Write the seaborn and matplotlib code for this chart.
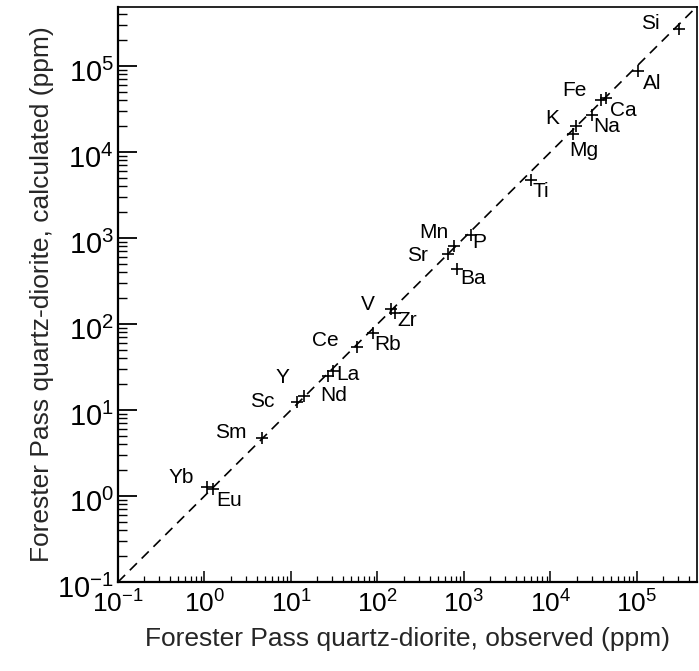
import matplotlib
matplotlib.use("Agg")
import matplotlib.pyplot as plt
import matplotlib.transforms as mtransforms
import seaborn as sns
import pandas as pd
import numpy as np
from matplotlib.ticker import LogLocator

# ===================== 1. data (ppm) =====================
elements = ["Si", "Al", "Fe", "Ca", "Na", "K", "Mg", "Ti",
            "P", "Mn", "Sr", "Ba", "V", "Zr", "Rb", "Ce",
            "La", "Nd", "Y", "Sc", "Sm", "Yb", "Eu"]
observed = [3.06e5, 1.02e5, 3.84e4, 4.38e4, 3.02e4, 1.97e4, 1.82e4, 5.96e3,
            1.20e3, 766, 653, 830, 143, 159, 88.7, 58,
            30.6, 26.8, 14.1, 11.7, 4.63, 1.07, 1.25]
calculated = [2.69e5, 8.7e4, 4.03e4, 4.25e4, 2.70e4, 2.00e4, 1.62e4, 4.7e3,
              1.08e3, 807, 652, 437, 149, 134, 78.5, 54,
              28.4, 24.8, 14.6, 12.4, 4.72, 1.27, 1.20]

one_to_one = [0.1, 1e6]

# label offsets in pixels (dx, dy) from each marker
label_offsets = {
    "Si": (-29, 6), "Al": (14, -12), "Fe": (-27, 9), "Ca": (17, -12),
    "Na": (15, -12), "K": (-24, 8), "Mg": (11, -16), "Ti": (10, -11),
    "P": (8, -7), "Mn": (-20, 14), "Sr": (-31, -1), "Ba": (16, -10),
    "V": (-23, 5), "Zr": (12, -7), "Rb": (15, -11), "Ce": (-32, 7),
    "La": (15, -3), "Nd": (6, -19), "Y": (-21, 18), "Sc": (-35, 0),
    "Sm": (-31, 6), "Yb": (-26, 10), "Eu": (16, -11),
}

df = pd.DataFrame({"element": elements, "observed": observed, "calculated": calculated})
line_df = pd.DataFrame({"x": one_to_one, "y": one_to_one})

# ===================== 2. style =====================
sns.set_style("ticks")
plt.rcParams["font.family"] = ["Liberation Sans", "DejaVu Sans"]
plt.rcParams["mathtext.fontset"] = "custom"
plt.rcParams["mathtext.rm"] = "Liberation Sans"
plt.rcParams["mathtext.it"] = "Liberation Sans"
plt.rcParams["axes.unicode_minus"] = False

fig = plt.figure(figsize=(6.99, 6.71), dpi=100)
ax = fig.add_axes([118 / 699, 89 / 671, 579 / 699, 575 / 671])

# ===================== 3. plot =====================
sns.lineplot(data=line_df, x="x", y="y", ax=ax, color="black",
             linewidth=1.2, dashes=False, linestyle=(0, (6, 4)))
sns.scatterplot(data=df, x="observed", y="calculated", ax=ax, marker="+",
                color="black", s=80, linewidth=1.2, zorder=3)

for el, xo, yc in zip(elements, observed, calculated):
    dx, dy = label_offsets[el]
    ax.annotate(el, (xo, yc), xytext=(dx, dy), textcoords="offset pixels",
                ha="center", va="center", fontsize=15, color="black")

ax.set_xscale("log")
ax.set_yscale("log")
ax.set_xlim(0.1, 4.94e5)
ax.set_ylim(0.1, 4.86e5)

ax.xaxis.set_major_locator(LogLocator(base=10, numticks=20))
ax.yaxis.set_major_locator(LogLocator(base=10, numticks=20))
ax.xaxis.set_minor_locator(LogLocator(base=10, subs=np.arange(2, 10), numticks=40))
ax.yaxis.set_minor_locator(LogLocator(base=10, subs=np.arange(2, 10), numticks=40))

ax.tick_params(axis="both", which="both", direction="in", color="black",
               labelcolor="black")
ax.tick_params(axis="y", which="major", length=13.5, width=1.3, pad=3, labelsize=21)
ax.tick_params(axis="y", which="minor", length=6.5, width=1.0)
ax.tick_params(axis="x", which="major", length=8, width=1.1, pad=6, labelsize=19)
ax.tick_params(axis="x", which="minor", length=4, width=0.9)

# y tick labels sit a little below their ticks in the original
shift = mtransforms.ScaledTranslation(0, -4 / 100, fig.dpi_scale_trans)
for lab in ax.get_yticklabels():
    lab.set_transform(lab.get_transform() + shift)

for side in ["left", "bottom"]:
    ax.spines[side].set_linewidth(1.6)
for side in ["top", "right"]:
    ax.spines[side].set_linewidth(1.2)
for sp in ax.spines.values():
    sp.set_color("black")

ax.set_xlabel("Forester Pass quartz-diorite, observed (ppm)", fontsize=19, labelpad=7)
ax.set_ylabel("Forester Pass quartz-diorite, calculated (ppm)", fontsize=19, labelpad=2)

fig.savefig("out.png", dpi=100)
